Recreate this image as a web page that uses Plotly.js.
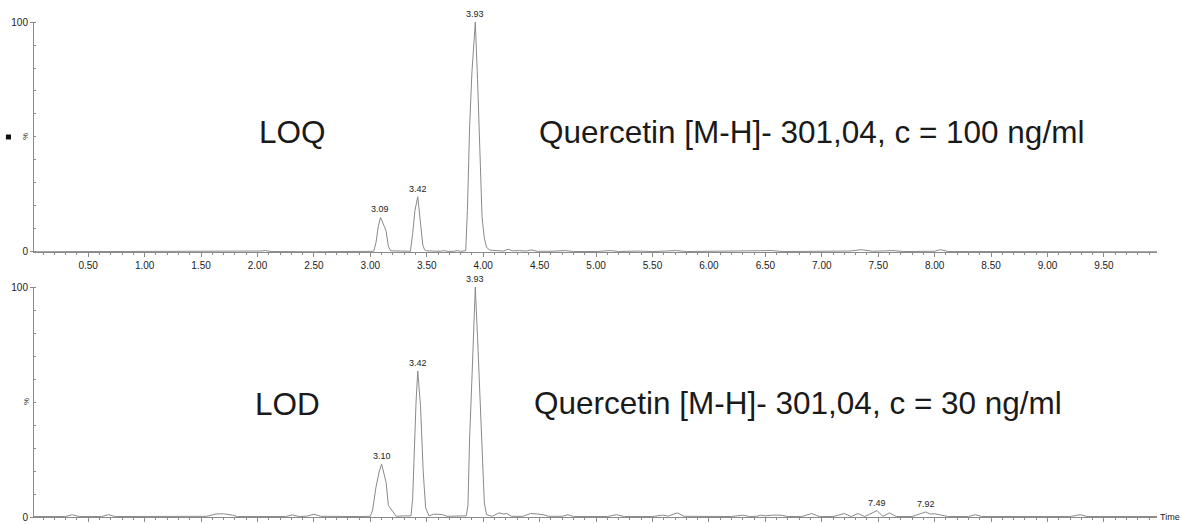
<!DOCTYPE html>
<html>
<head>
<meta charset="utf-8">
<script src="https://cdn.plot.ly/plotly-3.0.1.min.js"></script>
<style>html,body{margin:0;padding:0;background:#fff;}#chart{width:1182px;height:524px;}</style>
</head>
<body>
<div id="chart"></div>
<script>
// Top chromatogram (LOQ, c = 100 ng/ml): retention time (min) and relative intensity (%)
const loqTime = [0.02,0.30,0.60,1.00,1.50,1.95,2.03,2.07,2.12,2.50,2.90,3.00,3.03,3.05,3.07,3.09,3.11,3.125,3.14,3.16,3.18,3.22,3.30,3.355,3.375,3.395,3.42,3.435,3.45,3.465,3.48,3.50,3.55,3.62,3.65,3.68,3.74,3.77,3.80,3.845,3.86,3.88,3.90,3.93,3.95,3.97,3.99,4.01,4.03,4.06,4.12,4.18,4.22,4.26,4.32,4.38,4.43,4.48,4.60,4.73,4.80,5.00,5.13,5.20,5.37,5.50,5.71,5.80,6.00,6.56,6.65,7.00,7.25,7.35,7.45,7.64,7.72,8.00,8.05,8.12,8.50,9.00,9.50,9.97];
const loqInt  = [0.1,0.1,0.2,0.1,0.1,0.1,0.4,0.6,0.2,0.1,0.2,0.3,0.3,4,11,15,13,11,9,2.5,0.5,0.4,0.4,0.3,8,18,24,17,8,3,1,0.5,0.4,0.3,0.6,0.3,0.3,0.6,0.3,0.5,18,55,78,100,75,40,15,6,2,0.8,0.5,0.4,1.2,0.5,0.6,0.4,0.9,0.3,0.3,0.6,0.2,0.2,0.6,0.2,0.4,0.2,0.6,0.2,0.3,0.6,0.2,0.2,0.4,1.0,0.3,0.6,0.2,0.3,1.0,0.2,0.1,0.1,0.1,0.1];
const loqPeakTimes  = [3.09, 3.42, 3.93];
const loqPeakHeights = [15, 24, 100];
const loqPeakLabels = ["3.09", "3.42", "3.93"];

// Bottom chromatogram (LOD, c = 30 ng/ml)
const lodTime = [0.02,0.30,0.36,0.42,0.62,0.68,0.74,1.55,1.63,1.70,1.78,1.82,2.25,2.31,2.37,2.44,2.50,2.56,2.90,3.00,3.02,3.05,3.08,3.10,3.12,3.14,3.16,3.19,3.23,3.30,3.36,3.375,3.39,3.405,3.42,3.445,3.468,3.49,3.52,3.56,3.60,3.64,3.68,3.80,3.85,3.865,3.88,3.90,3.915,3.93,3.95,3.97,3.99,4.01,4.03,4.08,4.14,4.18,4.21,4.25,4.35,4.42,4.48,4.53,4.58,4.70,4.75,4.80,5.10,5.18,5.25,5.50,5.59,5.64,5.72,5.78,6.20,6.30,6.36,6.42,6.46,6.50,6.56,6.64,6.70,6.82,6.91,6.98,7.10,7.20,7.26,7.32,7.38,7.49,7.54,7.60,7.66,7.80,7.86,7.92,7.96,8.00,8.06,8.12,8.30,8.36,8.42,9.20,9.29,9.35,9.97];
const lodInt  = [0.2,0.2,1.0,0.2,0.2,1.0,0.2,0.3,1.3,1.4,0.8,0.2,0.2,0.9,0.2,0.4,1.2,0.3,0.2,0.3,3,13,20,23,19,15,5,3,0.3,0.5,0.5,8,30,50,63.5,48,20,4,0.5,1.2,1.2,1.0,0.3,0.3,0.5,5,35,60,82,100,78,55,25,6,1,0.3,1.8,1.3,1.5,0.3,0.3,1.5,1.3,1.0,0.3,0.3,1.0,0.2,0.2,1.0,0.2,0.2,0.8,0.4,1.8,0.3,0.2,0.8,0.2,0.3,0.8,0.5,0.8,0.8,0.2,0.2,1.5,0.2,0.2,1.5,0.2,1.5,0.2,2.8,0.3,1.8,0.2,0.2,1.2,2.2,1.3,1.4,0.8,0.2,0.2,1.0,0.2,0.2,1.0,0.2,0.2];
const lodPeakTimes  = [3.10, 3.42, 3.93, 7.49, 7.92];
const lodPeakHeights = [23, 63.5, 100, 2.8, 2.2];
const lodPeakLabels = ["3.10", "3.42", "3.93", "7.49", "7.92"];

// Axis tick labels
const xTickVals = [0.5,1.0,1.5,2.0,2.5,3.0,3.5,4.0,4.5,5.0,5.5,6.0,6.5,7.0,7.5,8.0,8.5,9.0,9.5];
const xTickText = ["0.50","1.00","1.50","2.00","2.50","3.00","3.50","4.00","4.50","5.00","5.50","6.00","6.50","7.00","7.50","8.00","8.50","9.00","9.50"];
const yTickVals = [0, 100];
const yTickText = ["0", "100"];

const lineColor = "#8a8a8a";
const axisColor = "#8a8a8a";
const smallFamily = "Liberation Sans, Arial, sans-serif";
const tickFont = {family: smallFamily, size: 10, color: "#222"};
const peakFont = {family: smallFamily, size: 9, color: "#222"};
const bigFont = {family: "Liberation Sans, Arial, sans-serif", size: 31.5, color: "#1a1a1a"};

const traces = [
  {x: loqTime, y: loqInt, xaxis: "x", yaxis: "y", mode: "lines", line: {color: lineColor, width: 1}, hoverinfo: "skip"},
  {x: lodTime, y: lodInt, xaxis: "x2", yaxis: "y2", mode: "lines", line: {color: lineColor, width: 1}, hoverinfo: "skip"}
];

function xAxis(showLabels, anchor) {
  return {
    anchor: anchor, range: [0.02, 9.97], showgrid: false, zeroline: false,
    showline: true, linecolor: axisColor, linewidth: 1,
    ticks: "outside", ticklen: 4, tickcolor: axisColor, tickwidth: 1,
    tickmode: "array", tickvals: xTickVals, ticktext: xTickText,
    showticklabels: showLabels, tickfont: tickFont,
    minor: {dtick: 0.1, tick0: 0, ticks: "outside", ticklen: 2, tickcolor: axisColor, showgrid: false}
  };
}
function yAxis(domain, anchor) {
  return {
    anchor: anchor, domain: domain, range: [0, 100], showgrid: false, zeroline: false,
    showline: true, linecolor: axisColor, linewidth: 1,
    ticks: "outside", ticklen: 3, tickcolor: axisColor,
    tickmode: "array", tickvals: yTickVals, ticktext: yTickText, tickfont: tickFont,
    minor: {dtick: 10, tick0: 0, ticks: "inside", ticklen: 2, tickcolor: axisColor, showgrid: false}
  };
}

const annotations = [];
loqPeakTimes.forEach((t, i) => annotations.push({
  x: t, y: loqPeakHeights[i], xref: "x", yref: "y", text: loqPeakLabels[i], showarrow: false,
  yanchor: "bottom", yshift: 1, font: peakFont
}));
lodPeakTimes.forEach((t, i) => annotations.push({
  x: t, y: lodPeakHeights[i], xref: "x2", yref: "y2", text: lodPeakLabels[i], showarrow: false,
  yanchor: "bottom", yshift: 1, font: peakFont
}));
annotations.push(
  {xref: "paper", yref: "paper", x: 0.2306, y: 0.7778, text: "LOQ", showarrow: false, xanchor: "center", yanchor: "middle", font: bigFont},
  {xref: "paper", yref: "paper", x: 0.4479, y: 0.7778, text: "Quercetin [M-H]- 301,04, c = 100 ng/ml", showarrow: false, xanchor: "left", yanchor: "middle", font: bigFont},
  {xref: "paper", yref: "paper", x: 0.2253, y: 0.2283, text: "LOD", showarrow: false, xanchor: "center", yanchor: "middle", font: bigFont},
  {xref: "paper", yref: "paper", x: 0.4434, y: 0.2303, text: "Quercetin [M-H]- 301,04, c = 30 ng/ml", showarrow: false, xanchor: "left", yanchor: "middle", font: bigFont},
  {xref: "paper", yref: "paper", x: 1, y: 0, text: "Time", showarrow: false, xanchor: "left", yanchor: "middle", xshift: 1,
   font: {family: smallFamily, size: 9, color: "#222"}},
  {xref: "paper", yref: "paper", x: 0, y: 0.7677, xshift: -8, text: "%", showarrow: false, textangle: -90,
   xanchor: "center", yanchor: "middle", font: {family: smallFamily, size: 8, color: "#222"}},
  {xref: "paper", yref: "paper", x: 0, y: 0.2323, xshift: -8, text: "%", showarrow: false, textangle: -90,
   xanchor: "center", yanchor: "middle", font: {family: smallFamily, size: 8, color: "#222"}}
);

const layout = {
  width: 1182, height: 524,
  margin: {l: 34, r: 25, t: 22, b: 7, pad: 0},
  paper_bgcolor: "#fff", plot_bgcolor: "#fff",
  showlegend: false,
  xaxis: xAxis(true, "y"),
  xaxis2: xAxis(false, "y2"),
  yaxis: yAxis([0.5354, 1], "x"),
  yaxis2: yAxis([0, 0.4646], "x2"),
  annotations: annotations,
  shapes: [
    {type: "rect", xref: "paper", yref: "paper", x0: -0.0250, x1: -0.0205, y0: 0.7627, y1: 0.7727,
     fillcolor: "#111", line: {width: 0}}
  ]
};

Plotly.newPlot("chart", traces, layout, {displayModeBar: false, staticPlot: true});
</script>
</body>
</html>
